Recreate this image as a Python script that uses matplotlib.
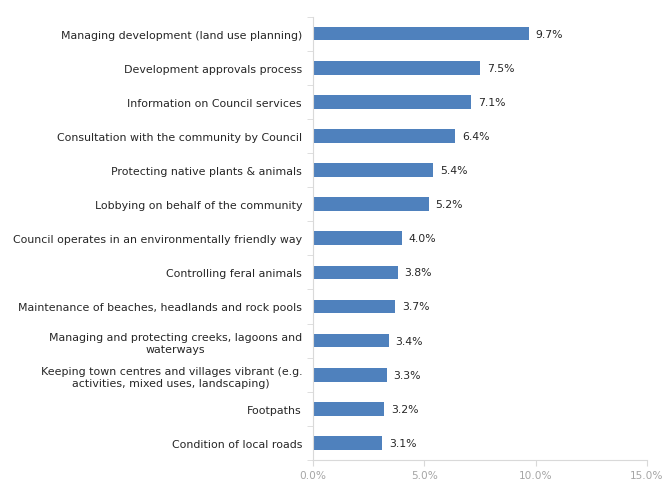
import matplotlib
matplotlib.use("Agg")
import matplotlib.pyplot as plt
import matplotlib.transforms as mtransforms
import numpy as np

# Share of responses by area, top to bottom
categories = [
    "Managing development (land use planning)",
    "Development approvals process",
    "Information on Council services",
    "Consultation with the community by Council",
    "Protecting native plants & animals",
    "Lobbying on behalf of the community",
    "Council operates in an environmentally friendly way",
    "Controlling feral animals",
    "Maintenance of beaches, headlands and rock pools",
    "Managing and protecting creeks, lagoons and\nwaterways",
    "Keeping town centres and villages vibrant (e.g.\nactivities, mixed uses, landscaping)",
    "Footpaths",
    "Condition of local roads",
]
values = [9.7, 7.5, 7.1, 6.4, 5.4, 5.2, 4.0, 3.8, 3.7, 3.4, 3.3, 3.2, 3.1]
x_ticks = [0, 5, 10, 15]

plt.rcParams['font.family'] = ['DejaVu Sans']

fig = plt.figure(figsize=(6.62, 4.81), dpi=100)
ax = fig.add_axes([0.473, 0.0416, 0.504, 0.922])

y = np.arange(len(categories))
bar_color = '#4f81bd'
ax.barh(y, values, height=0.4, color=bar_color)
for yi, v in zip(y, values):
    ax.text(v + 0.3, yi, f"{v:.1f}%", va='center', ha='left', fontsize=7.8, color='#262626')

ax.set_xlim(0, 15)
ax.set_ylim(len(categories) - 0.5, -0.5)
ax.set_xticks(x_ticks)
ax.set_xticklabels([f"{t:.1f}%" for t in x_ticks], fontsize=7.6, color='#a6a6a6')
# keep the last x label inside the figure edge
last = ax.get_xticklabels()[-1]
last.set_transform(last.get_transform() + mtransforms.ScaledTranslation(-3 / 72, 0, fig.dpi_scale_trans))

ax.set_yticks(y)
ax.set_yticklabels(categories, fontsize=7.9, color='#262626', ha='right',
                   multialignment='center', linespacing=1.3)
ax.tick_params(axis='y', which='major', length=0, pad=8)
# short ticks between categories
ax.set_yticks(np.arange(-0.5, len(categories), 1), minor=True)
ax.tick_params(axis='y', which='minor', length=4, color='#d9d9d9', direction='out')
ax.tick_params(axis='x', length=4, color='#d9d9d9', pad=3)

for side in ['top', 'right']:
    ax.spines[side].set_visible(False)
for side in ['left', 'bottom']:
    ax.spines[side].set_color('#d9d9d9')

fig.savefig("out.png", dpi=100)
